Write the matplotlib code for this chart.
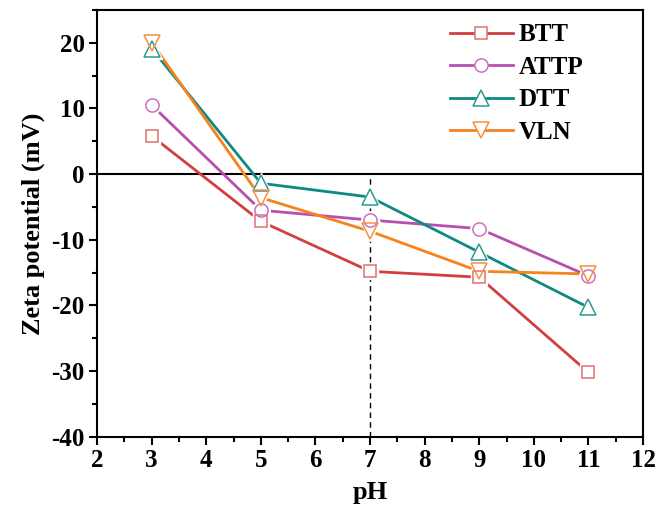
import numpy as np
import matplotlib.pyplot as plt
from matplotlib.ticker import MultipleLocator

plt.rcParams['font.family'] = 'serif'
plt.rcParams['font.serif'] = ['Liberation Serif', 'DejaVu Serif']
plt.rcParams['font.weight'] = 'bold'
plt.rcParams['axes.unicode_minus'] = False

ph = [3, 5, 7, 9, 11]
btt = [5.8, -7.2, -14.8, -15.7, -30.2]
attp = [10.5, -5.5, -7.0, -8.3, -15.5]
dtt = [19.1, -1.4, -3.5, -11.9, -20.3]
vln = [20.0, -3.6, -8.7, -14.8, -15.2]

series = [
    ('BTT', btt, '#d23f3f', '#e07070', 's', 8.5),
    ('ATTP', attp, '#b94fad', '#cc70c0', 'o', 9.5),
    ('DTT', dtt, '#0e8a82', '#2f9a92', '^', 11),
    ('VLN', vln, '#f7821e', '#f79040', 'v', 11),
]

fig = plt.figure(figsize=(6.65, 5.17), dpi=100)
ax = fig.add_axes([0.146, 0.155, 0.821, 0.826])

for name, y, col, mcol, mk, ms in series:
    ax.plot(ph, y, color=col, lw=2, zorder=2)
    # white halo so the line stops short of the marker
    ax.plot(ph, y, ls='none', marker=mk, ms=ms + 3, mfc='white', mec='white', zorder=3)
    ax.plot(ph, y, ls='none', marker=mk, ms=ms, mfc='none', mec=mcol, mew=1.1, zorder=4)
    ax.plot([], [], color=col, lw=2, marker=mk, ms=ms, mfc='white', mec=mcol, mew=1.1, label=name)

ax.axhline(0, color='black', lw=1.5, zorder=1)
ax.plot([7, 7], [-40, 0], color='black', ls=(0, (4, 3)), lw=1, zorder=1)

ax.set_xlim(2, 12)
ax.set_ylim(-40, 25)
ax.xaxis.set_major_locator(MultipleLocator(1))
ax.xaxis.set_minor_locator(MultipleLocator(0.5))
ax.yaxis.set_major_locator(MultipleLocator(10))
ax.yaxis.set_minor_locator(MultipleLocator(5))
ax.tick_params(which='major', direction='out', length=6, width=1.5, labelsize=18, pad=3)
ax.tick_params(which='minor', direction='out', length=3.5, width=1.5)
for s in ax.spines.values():
    s.set_linewidth(1.5)

ax.set_xlabel('pH', fontsize=19, fontweight='bold', labelpad=6)
ax.set_ylabel('Zeta potential (mV)', fontsize=19, fontweight='bold')
ax.yaxis.set_label_coords(-0.095, 0.5)

ax.legend(loc='upper left', bbox_to_anchor=(0.6465, 0.968), frameon=False,
          handlelength=2.5, borderaxespad=0, borderpad=0, labelspacing=0.38,
          handletextpad=0.25, prop={'weight': 'bold', 'size': 18})

fig.savefig('out.png', dpi=100)
